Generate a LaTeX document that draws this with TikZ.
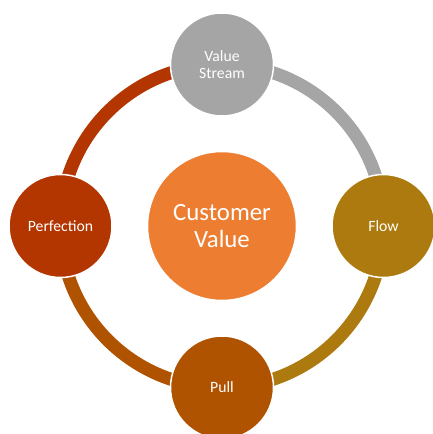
\documentclass[tikz,border=0pt]{standalone}
\usepackage{fontspec}
\setmainfont{Carlito}
\usetikzlibrary{calc}

\definecolor{streamgray}{HTML}{A5A5A5}
\definecolor{flowgold}{HTML}{AD7A10}
\definecolor{pullbrown}{HTML}{B05300}
\definecolor{perfred}{HTML}{B33600}
\definecolor{custorange}{HTML}{ED7D31}

\begin{document}
\begin{tikzpicture}[x=1pt, y=1pt,
    stage/.style={circle, draw=white, line width=1.5pt, minimum size=103pt,
        inner sep=0pt, align=center, text=white,
        font=\fontsize{15.7}{17}\selectfont},
    ring/.style={line width=13pt}]
    \useasboundingbox (0,0) rectangle (433,434);

    \coordinate (O) at (222,208);
    \coordinate (VS) at ($(O)+(90:161.5)$);
    \coordinate (FL) at ($(O)+(0:161.5)$);
    \coordinate (PU) at ($(O)+(-90:161.5)$);
    \coordinate (PE) at ($(O)+(180:161.5)$);

    \draw[ring, streamgray] (VS) arc[start angle=90, end angle=0, radius=161.5];
    \draw[ring, flowgold] (FL) arc[start angle=0, end angle=-90, radius=161.5];
    \draw[ring, pullbrown] (PU) arc[start angle=-90, end angle=-180, radius=161.5];
    \draw[ring, perfred] (PE) arc[start angle=180, end angle=90, radius=161.5];

    \node[stage, fill=custorange, minimum size=149pt,
        font=\fontsize{24.8}{27.6}\selectfont] (cv) at (O) {Customer\\Value};
    \node[stage, fill=streamgray] (vs) at (VS) {Value\\Stream};
    \node[stage, fill=flowgold] (fl) at (FL) {Flow};
    \node[stage, fill=pullbrown] (pu) at (PU) {Pull};
    \node[stage, fill=perfred] (pe) at (PE) {Perfection};
\end{tikzpicture}
\end{document}
